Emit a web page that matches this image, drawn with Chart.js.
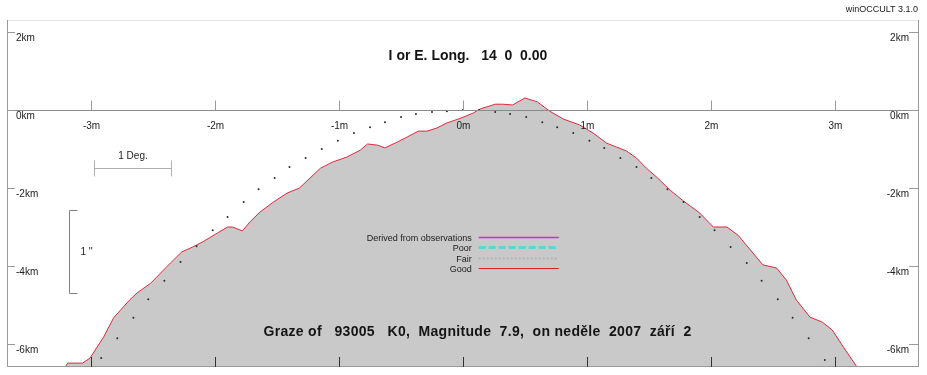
<!DOCTYPE html>
<html>
<head>
<meta charset="utf-8">
<script src="https://cdn.jsdelivr.net/npm/chart.js@4.4.0/dist/chart.umd.min.js"></script>
<style>
body { margin: 0; background: #fff; }
#wrap { width: 927px; height: 375px; }
</style>
</head>
<body>
<div id="wrap"><canvas id="graze" width="927" height="375"></canvas></div>
<script>
const minuteTicks = [-3, -2, -1, 0, 1, 2, 3];
const minuteLabels = ['-3m', '-2m', '-1m', '0m', '1m', '2m', '3m'];
const kmTicks = [2, 0, -2, -4, -6];
const kmLabels = ['2km', '0km', '-2km', '-4km', '-6km'];

// lunar limb profile: minutes along track, km from the graze line
const profileX = [-3.21, -3.19, -3.07, -3.01, -2.90, -2.82, -2.69, -2.63, -2.52, -2.44, -2.36, -2.27, -2.18, -2.10,
  -1.98, -1.90, -1.86, -1.78, -1.72, -1.64, -1.53, -1.42, -1.32, -1.15, -1.05, -0.94, -0.83, -0.77, -0.69, -0.63,
  -0.53, -0.45, -0.36, -0.29, -0.21, -0.13, -0.02, 0.08, 0.14, 0.26, 0.32, 0.40, 0.50, 0.60, 0.70, 0.81, 0.94,
  1.05, 1.16, 1.24, 1.32, 1.40, 1.48, 1.57, 1.67, 1.77, 1.91, 2.02, 2.13, 2.22, 2.32, 2.42, 2.53, 2.61, 2.69,
  2.80, 2.90, 2.98, 3.07, 3.18];
const profileY = [-6.59, -6.49, -6.49, -6.36, -5.82, -5.33, -4.87, -4.69, -4.44, -4.18, -3.92, -3.64, -3.51, -3.38,
  -3.15, -3.00, -3.00, -3.10, -2.87, -2.62, -2.36, -2.13, -2.00, -1.49, -1.33, -1.21, -1.03, -0.87, -0.90, -0.97,
  -0.82, -0.69, -0.54, -0.54, -0.46, -0.33, -0.21, -0.08, 0.03, 0.15, 0.15, 0.13, 0.31, 0.21, -0.03, -0.23, -0.38,
  -0.59, -0.85, -0.95, -1.05, -1.23, -1.49, -1.74, -2.05, -2.31, -2.64, -3.00, -3.00, -3.21, -3.59, -3.97, -4.05,
  -4.36, -4.87, -5.31, -5.44, -5.64, -6.08, -6.59];

// dotted prediction line (mean limb)
const predX = [-2.92, -2.79, -2.66, -2.54, -2.41, -2.28, -2.15, -2.02, -1.90, -1.77, -1.65, -1.52, -1.40, -1.27,
  -1.14, -1.01, -0.88, -0.75, -0.63, -0.50, -0.38, -0.25, -0.13, 0.00, 0.13, 0.26, 0.38, 0.51, 0.64, 0.76, 0.89,
  1.02, 1.14, 1.27, 1.40, 1.52, 1.65, 1.78, 1.91, 2.03, 2.16, 2.29, 2.41, 2.54, 2.66, 2.79, 2.92];
const predY = [-6.36, -5.85, -5.33, -4.85, -4.38, -3.90, -3.49, -3.08, -2.74, -2.36, -2.03, -1.74, -1.46, -1.23,
  -1.00, -0.79, -0.59, -0.44, -0.31, -0.18, -0.10, -0.05, -0.03, 0.00, 0.00, -0.05, -0.10, -0.18, -0.31, -0.44,
  -0.59, -0.79, -0.97, -1.23, -1.46, -1.74, -2.03, -2.36, -2.74, -3.08, -3.51, -3.92, -4.38, -4.85, -5.33, -5.85,
  -6.41];

const legendNames = ['Derived from observations', 'Poor', 'Fair', 'Good'];
const legendColors = ['#e020e0', '#5fd3d8', '#b4b4b4', '#e02020'];
const legendDash = [[], [7, 3], [2, 2], []];
const legendWidth = [1.5, 3, 2, 1];

const titleText = 'I or E. Long.   14  0  0.00';
const grazeText = 'Graze of   93005   K0,  Magnitude  7.9,  on neděle  2007  září  2';

const overlay = {
    id: 'overlay',
    afterDatasetsDraw(chart) {
        const {ctx, chartArea: a, scales: {x, y}} = chart;
        const font = '10px "Liberation Sans", Arial, sans-serif';
        ctx.save();

        // frame
        ctx.lineWidth = 1;
        ctx.strokeStyle = '#e2e2e2';
        ctx.beginPath(); ctx.moveTo(a.left, a.top + 0.5); ctx.lineTo(a.right, a.top + 0.5); ctx.stroke();
        ctx.strokeStyle = '#9a9a9a';
        ctx.beginPath();
        ctx.moveTo(a.left + 0.5, a.top); ctx.lineTo(a.left + 0.5, a.bottom);
        ctx.moveTo(a.right - 0.5, a.top); ctx.lineTo(a.right - 0.5, a.bottom);
        ctx.moveTo(a.left, a.bottom - 0.5); ctx.lineTo(a.right, a.bottom - 0.5);
        ctx.stroke();

        // centre line
        const y0 = Math.round(y.getPixelForValue(0)) + 0.5;
        ctx.strokeStyle = '#8a8a8a';
        ctx.beginPath(); ctx.moveTo(a.left, y0); ctx.lineTo(a.right, y0); ctx.stroke();

        // minute ticks and labels
        ctx.font = font;
        ctx.textAlign = 'center';
        ctx.textBaseline = 'middle';
        minuteTicks.forEach((m, i) => {
            const px = Math.round(x.getPixelForValue(m)) + 0.5;
            ctx.strokeStyle = '#9a9a9a';
            ctx.beginPath(); ctx.moveTo(px, y0); ctx.lineTo(px, y0 - 10); ctx.stroke();
            ctx.strokeStyle = '#303030';
            ctx.beginPath(); ctx.moveTo(px, a.bottom); ctx.lineTo(px, a.bottom - 10); ctx.stroke();
            ctx.fillStyle = '#222';
            ctx.fillText(minuteLabels[i], px, y0 + 16);
        });

        // km ticks both sides
        kmTicks.forEach((k, i) => {
            const py = Math.round(y.getPixelForValue(k)) + 0.5;
            ctx.strokeStyle = '#9a9a9a';
            ctx.beginPath();
            ctx.moveTo(a.left, py); ctx.lineTo(a.left + 8, py);
            ctx.moveTo(a.right, py); ctx.lineTo(a.right - 10, py);
            ctx.stroke();
            ctx.fillStyle = '#222';
            ctx.textAlign = 'left';
            ctx.fillText(kmLabels[i], a.left + 9, py + 6);
            ctx.textAlign = 'right';
            ctx.fillText(kmLabels[i], a.right - 10, py + 6);
        });

        // 1 Deg. scale bar
        const dl = Math.round(x.getPixelForValue(-2.98)) + 0.5;
        const dr = Math.round(x.getPixelForValue(-2.36)) + 0.5;
        const dy = Math.round(y.getPixelForValue(-1.49)) + 0.5;
        ctx.strokeStyle = '#b0b0b0';
        ctx.beginPath();
        ctx.moveTo(dl, dy); ctx.lineTo(dr, dy);
        ctx.moveTo(dl, dy - 8); ctx.lineTo(dl, dy + 8);
        ctx.moveTo(dr, dy - 8); ctx.lineTo(dr, dy + 8);
        ctx.stroke();
        ctx.fillStyle = '#222';
        ctx.textAlign = 'center';
        ctx.fillText('1 Deg.', (dl + dr) / 2, dy - 12);

        // 1'' scale bar
        const sx = Math.round(x.getPixelForValue(-3.18)) + 0.5;
        const st = Math.round(y.getPixelForValue(-2.56)) + 0.5;
        const sb = Math.round(y.getPixelForValue(-4.7)) + 0.5;
        ctx.strokeStyle = '#808080';
        ctx.beginPath();
        ctx.moveTo(sx + 8, st); ctx.lineTo(sx, st); ctx.lineTo(sx, sb); ctx.lineTo(sx + 8, sb);
        ctx.stroke();
        ctx.textAlign = 'left';
        ctx.fillText("1 ''", sx + 11, (st + sb) / 2);

        // legend
        const lx = x.getPixelForValue(0.07);
        legendNames.forEach((name, i) => {
            const ly = Math.round(y.getPixelForValue(-3.25 - i * 0.27)) + 0.5;
            ctx.font = '9px "Liberation Sans", Arial, sans-serif';
            ctx.fillStyle = '#202020';
            ctx.textAlign = 'right';
            ctx.fillText(name, lx, ly + 1);
            ctx.strokeStyle = legendColors[i];
            ctx.lineWidth = legendWidth[i];
            ctx.setLineDash(legendDash[i]);
            ctx.beginPath();
            ctx.moveTo(lx + 7, ly); ctx.lineTo(lx + 87, ly);
            ctx.stroke();
        });
        ctx.setLineDash([]);
        ctx.lineWidth = 1;

        // title and caption
        ctx.fillStyle = '#141414';
        ctx.font = 'bold 14px "Liberation Sans", Arial, sans-serif';
        ctx.textAlign = 'center';
        ctx.fillText(titleText, x.getPixelForValue(0.04), y.getPixelForValue(1.39));
        ctx.letterSpacing = '0.3px';
        ctx.textAlign = 'left';
        ctx.fillText(grazeText, x.getPixelForValue(-1.61), y.getPixelForValue(-5.69));
        ctx.letterSpacing = '0px';

        ctx.restore();

        // program tag above the frame
        ctx.save();
        ctx.font = '9px "Liberation Sans", Arial, sans-serif';
        ctx.fillStyle = '#202020';
        ctx.textAlign = 'right';
        ctx.textBaseline = 'middle';
        ctx.fillText('winOCCULT 3.1.0', a.right - 1, 10);
        ctx.restore();
    }
};

document.addEventListener('DOMContentLoaded', function () {
    const ctx = document.getElementById('graze').getContext('2d');

    new Chart(ctx, {
        type: 'scatter',
        data: {
            datasets: [{
                label: 'prediction',
                data: predX.map((v, i) => ({x: v, y: predY[i]})),
                pointRadius: 1,
                pointBorderWidth: 0,
                pointBackgroundColor: '#2a2a2a',
                showLine: false,
                order: 0
            }, {
                label: 'Good',
                data: profileX.map((v, i) => ({x: v, y: profileY[i]})),
                showLine: true,
                borderColor: '#dc2a3c',
                borderWidth: 1,
                backgroundColor: '#c9c9c9',
                fill: 'start',
                pointRadius: 0,
                tension: 0,
                order: 1
            }]
        },
        options: {
            responsive: false,
            animation: false,
            layout: {padding: {left: 7, right: 8, top: 20, bottom: 8}},
            scales: {
                x: {type: 'linear', min: -3.68, max: 3.68, display: false},
                y: {type: 'linear', min: -6.59, max: 2.31, display: false}
            },
            plugins: {
                legend: {display: false},
                tooltip: {enabled: false}
            }
        },
        plugins: [overlay]
    });
});
</script>
</body>
</html>
